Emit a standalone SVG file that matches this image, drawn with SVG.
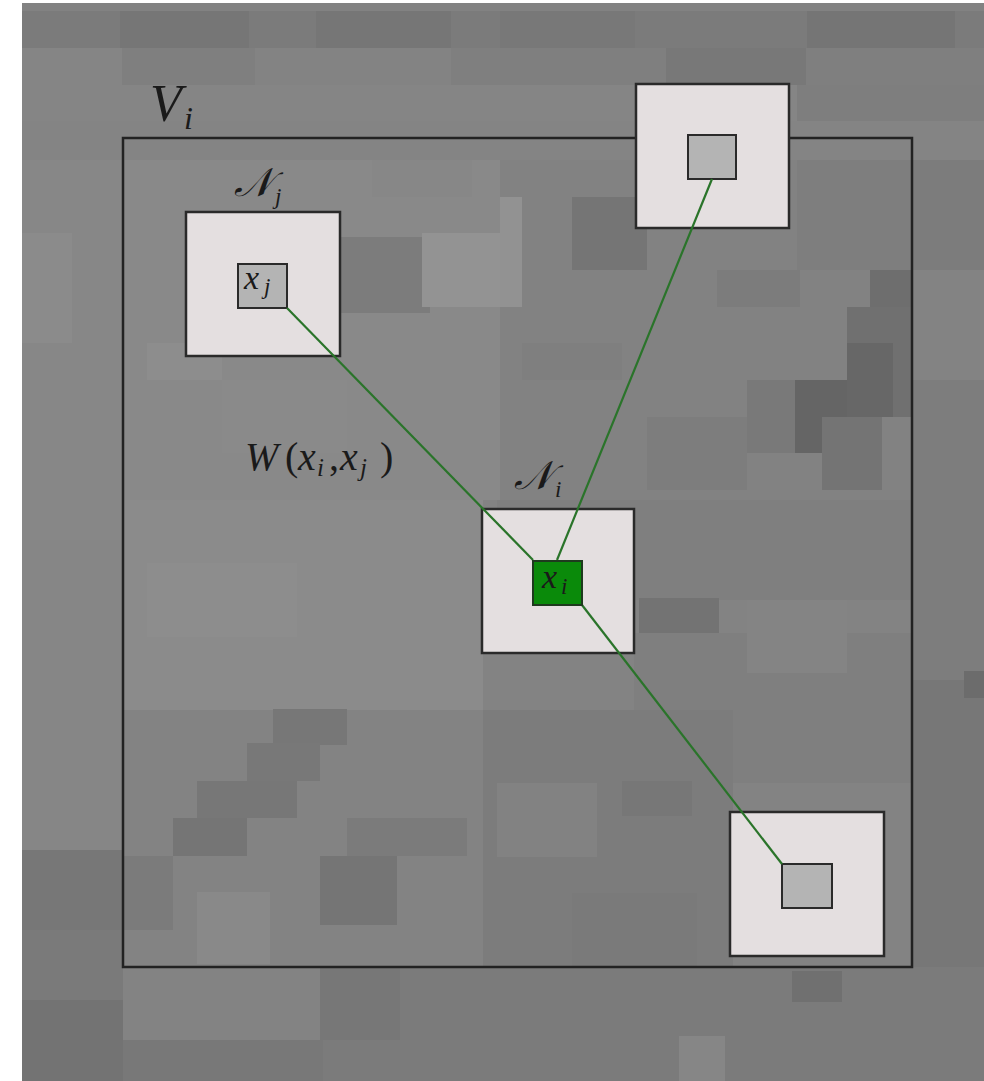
<svg xmlns="http://www.w3.org/2000/svg" width="984" height="1081" viewBox="0 0 984 1081">
<style>
.m{font-family:'Liberation Serif','DejaVu Serif',serif;font-style:italic;fill:#1a1a1a}
.u{font-family:'Liberation Serif','DejaVu Serif',serif;font-style:normal;fill:#1a1a1a}
.outer{fill:#e4dfe0;stroke:#2a2a2a;stroke-width:2.5}
.inner{fill:#b4b4b4;stroke:#2a2a2a;stroke-width:2}
.cur{fill:#0a8a0a;stroke:#1e3a1e;stroke-width:2}
.edge{stroke:#2a742a;stroke-width:2.2;fill:none}
</style>
<rect width="984" height="1081" fill="#ffffff"/>
<g id="background">
<rect x="22" y="3" width="962" height="1078" fill="#838383"/>
<rect x="22" y="3" width="962" height="8" fill="#828282"/>
<rect x="22" y="11" width="962" height="37" fill="#7b7b7b"/>
<rect x="120" y="11" width="129" height="37" fill="#767676"/>
<rect x="316" y="11" width="135" height="37" fill="#767676"/>
<rect x="500" y="11" width="135" height="37" fill="#787878"/>
<rect x="807" y="11" width="148" height="37" fill="#757575"/>
<rect x="22" y="48" width="962" height="37" fill="#7f7f7f"/>
<rect x="22" y="48" width="100" height="37" fill="#858585"/>
<rect x="255" y="48" width="196" height="37" fill="#838383"/>
<rect x="666" y="48" width="140" height="37" fill="#787878"/>
<rect x="22" y="85" width="962" height="36" fill="#858585"/>
<rect x="797" y="85" width="187" height="36" fill="#7e7e7e"/>
<rect x="22" y="121" width="962" height="39" fill="#848484"/>
<rect x="22" y="160" width="101" height="380" fill="#878787"/>
<rect x="22" y="233" width="50" height="110" fill="#8b8b8b"/>
<rect x="123" y="160" width="380" height="340" fill="#898989"/>
<rect x="340" y="237" width="90" height="76" fill="#7c7c7c"/>
<rect x="422" y="233" width="78" height="74" fill="#939393"/>
<rect x="372" y="160" width="100" height="37" fill="#878787"/>
<rect x="147" y="343" width="75" height="37" fill="#8d8d8d"/>
<rect x="222" y="380" width="125" height="73" fill="#8a8a8a"/>
<rect x="500" y="160" width="412" height="340" fill="#828282"/>
<rect x="500" y="197" width="22" height="110" fill="#929292"/>
<rect x="572" y="197" width="75" height="73" fill="#757575"/>
<rect x="797" y="160" width="115" height="110" fill="#7e7e7e"/>
<rect x="717" y="270" width="83" height="37" fill="#7c7c7c"/>
<rect x="870" y="270" width="42" height="37" fill="#6e6e6e"/>
<rect x="847" y="307" width="65" height="36" fill="#707070"/>
<rect x="847" y="343" width="46" height="74" fill="#676767"/>
<rect x="893" y="307" width="19" height="110" fill="#707070"/>
<rect x="795" y="380" width="52" height="73" fill="#656565"/>
<rect x="747" y="380" width="48" height="73" fill="#797979"/>
<rect x="822" y="417" width="60" height="73" fill="#747474"/>
<rect x="647" y="417" width="100" height="73" fill="#7d7d7d"/>
<rect x="522" y="343" width="100" height="37" fill="#7f7f7f"/>
<rect x="912" y="160" width="72" height="110" fill="#7c7c7c"/>
<rect x="912" y="270" width="72" height="110" fill="#838383"/>
<rect x="912" y="380" width="72" height="300" fill="#7d7d7d"/>
<rect x="912" y="680" width="72" height="290" fill="#777777"/>
<rect x="964" y="671" width="20" height="27" fill="#6c6c6c"/>
<rect x="22" y="540" width="101" height="310" fill="#868686"/>
<rect x="123" y="500" width="360" height="210" fill="#8b8b8b"/>
<rect x="147" y="563" width="150" height="74" fill="#8d8d8d"/>
<rect x="497" y="500" width="415" height="100" fill="#7f7f7f"/>
<rect x="639" y="598" width="80" height="35" fill="#737373"/>
<rect x="634" y="633" width="278" height="150" fill="#7f7f7f"/>
<rect x="747" y="600" width="100" height="73" fill="#848484"/>
<rect x="123" y="710" width="360" height="257" fill="#838383"/>
<rect x="273" y="709" width="74" height="36" fill="#777777"/>
<rect x="247" y="743" width="73" height="38" fill="#787878"/>
<rect x="197" y="781" width="100" height="37" fill="#777777"/>
<rect x="173" y="818" width="74" height="38" fill="#757575"/>
<rect x="347" y="818" width="120" height="38" fill="#7b7b7b"/>
<rect x="320" y="856" width="77" height="69" fill="#757575"/>
<rect x="197" y="892" width="73" height="72" fill="#898989"/>
<rect x="123" y="856" width="50" height="74" fill="#7b7b7b"/>
<rect x="483" y="710" width="250" height="257" fill="#7c7c7c"/>
<rect x="497" y="783" width="100" height="74" fill="#828282"/>
<rect x="622" y="781" width="70" height="35" fill="#777777"/>
<rect x="572" y="893" width="125" height="74" fill="#7a7a7a"/>
<rect x="22" y="850" width="101" height="80" fill="#777777"/>
<rect x="22" y="930" width="101" height="70" fill="#7a7a7a"/>
<rect x="123" y="967" width="861" height="114" fill="#7b7b7b"/>
<rect x="123" y="967" width="197" height="73" fill="#838383"/>
<rect x="320" y="967" width="80" height="73" fill="#777777"/>
<rect x="792" y="971" width="50" height="31" fill="#707070"/>
<rect x="679" y="1036" width="46" height="45" fill="#868686"/>
<rect x="22" y="1000" width="101" height="81" fill="#737373"/>
<rect x="123" y="1040" width="200" height="41" fill="#787878"/>
</g>
<g id="region-Vi">
<rect x="123" y="138" width="789" height="829" fill="none" stroke="#222222" stroke-width="2.5"/>
<text class="m" font-family="Liberation Serif, serif" x="150" y="121" font-size="52">V</text>
<text class="m" font-family="Liberation Serif, serif" x="184" y="129" font-size="32">i</text>
</g>
<g id="node-Nj">
<rect class="outer" x="186" y="212" width="154" height="144"/>
<rect class="inner" x="238" y="264" width="49" height="44"/>
<text class="m" x="234" y="196" font-size="40">𝒩</text>
<text class="m" font-family="Liberation Serif, serif" x="275" y="204" font-size="23">j</text>
<text class="m" font-family="Liberation Serif, serif" x="244" y="289" font-size="34">x</text>
<text class="m" font-family="Liberation Serif, serif" x="264" y="294" font-size="23">j</text>
</g>
<g id="node-top">
<rect class="outer" x="636" y="84" width="153" height="144"/>
<rect class="inner" x="688" y="135" width="48" height="44"/>
</g>
<g id="node-Ni">
<rect class="outer" x="482" y="509" width="152" height="144"/>
<text class="m" x="514" y="489" font-size="40">𝒩</text>
<text class="m" font-family="Liberation Serif, serif" x="555" y="497" font-size="23">i</text>
</g>
<g id="node-bottom">
<rect class="outer" x="730" y="812" width="154" height="144"/>
<rect class="inner" x="782" y="864" width="50" height="44"/>
</g>
<g id="connectors">
<line class="edge" x1="287" y1="308" x2="533" y2="560"/>
<line class="edge" x1="712" y1="179" x2="557" y2="560"/>
<line class="edge" x1="582" y1="605" x2="782" y2="864"/>
</g>
<g id="node-xi">
<rect class="cur" x="533" y="561" width="49" height="44"/>
<text class="m" font-family="Liberation Serif, serif" x="542" y="588" font-size="34">x</text>
<text class="m" font-family="Liberation Serif, serif" x="561" y="594" font-size="23">i</text>
</g>
<g id="label-W" font-family="Liberation Serif, serif" font-size="40">
<text class="m" x="245" y="470">W</text>
<text class="u" x="285" y="470">(</text>
<text class="m" x="298" y="470">x</text>
<text class="m" x="317" y="476" font-size="25">i</text>
<text class="u" x="329" y="470">,</text>
<text class="m" x="340" y="470">x</text>
<text class="m" x="360" y="476" font-size="25">j</text>
<text class="u" x="380" y="470">)</text>
</g>
</svg>
